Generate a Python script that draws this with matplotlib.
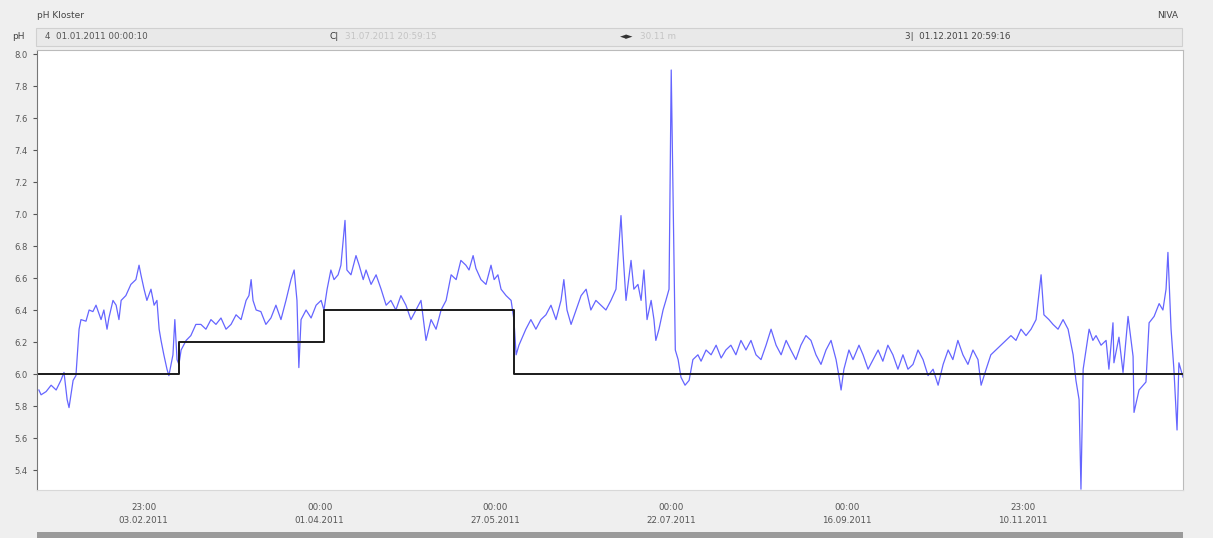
import matplotlib.pyplot as plt
import matplotlib.patches as mpatches
import numpy as np
import pandas as pd

# pH readings: days since 01.01.2011 00:00 and measured value
days = [0.6, 1.3, 2.9, 4.5, 6.1, 7.6, 8.6, 9.6, 10.2, 10.8, 11.5, 12.4, 13.4, 14.0,
        15.6, 16.6, 17.8, 18.8, 20.4, 21.3, 22.3, 22.9, 24.2, 25.2, 26.1, 26.8, 28.3,
        29.9, 31.5, 32.5, 33.1, 34.1, 35.0, 36.3, 37.3, 38.2, 38.9, 39.5, 40.4, 41.4,
        42.0, 43.3, 43.9, 44.6, 45.2, 45.9, 47.5, 49.0, 50.6, 52.2, 53.8, 55.4, 57.0,
        58.6, 60.2, 61.8, 63.4, 65.0, 66.6, 67.5, 68.2, 68.8, 69.8, 71.3, 72.9, 74.5,
        76.1, 77.7, 79.3, 80.9, 81.9, 82.8, 83.4, 84.1, 85.7, 87.3, 88.9, 90.5, 91.4,
        92.4, 93.6, 94.6, 95.9, 96.8, 98.1, 98.7, 100.0, 101.6, 102.6, 103.9, 104.8,
        106.4, 108.0, 109.6, 111.2, 112.7, 114.3, 115.9, 117.5, 119.1, 120.7, 122.3,
        123.9, 125.5, 127.1, 128.7, 130.3, 131.9, 133.5, 135.0, 136.6, 137.6, 138.9,
        139.8, 141.4, 143.0, 144.6, 145.6, 146.8, 147.8, 149.4, 151.0, 151.9, 152.6,
        153.5, 154.8, 155.7, 157.3, 158.9, 160.5, 162.1, 163.7, 165.3, 166.9, 167.8,
        168.8, 170.1, 171.7, 173.3, 174.9, 176.4, 178.0, 179.6, 181.2, 182.8, 184.4,
        186.0, 186.6, 187.6, 189.2, 190.1, 191.4, 192.4, 193.3, 194.3, 195.6, 196.5,
        197.1, 198.1, 199.4, 200.3, 201.3, 202.0, 202.6, 203.3, 204.2, 205.1, 206.4,
        207.7, 208.9, 210.5, 211.5, 213.1, 214.7, 216.3, 217.9, 219.4, 221.0, 222.6,
        224.2, 225.8, 227.4, 229.0, 230.6, 232.2, 233.8, 235.4, 237.0, 238.6, 240.1,
        241.7, 243.3, 244.9, 246.5, 248.1, 249.7, 251.3, 252.9, 254.5, 255.4, 256.1,
        257.0, 258.6, 259.9, 261.8, 263.1, 264.7, 266.3, 267.9, 269.4, 271.0, 272.6,
        274.2, 275.8, 277.4, 279.0, 280.6, 282.2, 283.8, 285.4, 287.0, 288.6, 290.2,
        291.7, 293.3, 294.9, 296.5, 298.1, 299.7, 300.7, 302.3, 303.8, 305.4, 307.0,
        308.6, 310.2, 311.8, 313.4, 315.0, 316.6, 318.2, 319.8, 320.7, 322.3, 323.6,
        325.2, 326.8, 328.4, 330.0, 330.9, 331.9, 332.5, 333.2, 334.1, 335.1, 336.3,
        337.3, 338.9, 340.5, 341.4, 342.7, 343.0, 344.6, 345.9, 347.5, 349.1, 349.4,
        351.0, 353.2, 354.2, 355.8, 357.4, 358.6, 359.6, 360.2, 361.2, 362.1, 363.1,
        363.7, 365.0]
ph = [5.90, 5.87, 5.89, 5.93, 5.90, 5.96, 6.01, 5.84, 5.79, 5.87, 5.96, 5.99, 6.28, 6.34,
      6.33, 6.40, 6.39, 6.43, 6.34, 6.40, 6.28, 6.35, 6.46, 6.43, 6.34, 6.46, 6.49,
      6.56, 6.59, 6.68, 6.62, 6.53, 6.46, 6.53, 6.43, 6.46, 6.28, 6.21, 6.12, 6.03,
      5.99, 6.12, 6.34, 6.09, 6.06, 6.15, 6.21, 6.24, 6.31, 6.31, 6.28, 6.34, 6.31,
      6.35, 6.28, 6.31, 6.37, 6.34, 6.46, 6.49, 6.59, 6.46, 6.40, 6.39, 6.31, 6.35,
      6.43, 6.34, 6.46, 6.59, 6.65, 6.46, 6.04, 6.34, 6.40, 6.35, 6.43, 6.46, 6.40,
      6.53, 6.65, 6.59, 6.62, 6.68, 6.96, 6.65, 6.62, 6.74, 6.68, 6.59, 6.65, 6.56,
      6.62, 6.53, 6.43, 6.46, 6.40, 6.49, 6.43, 6.34, 6.40, 6.46, 6.21, 6.34, 6.28,
      6.40, 6.46, 6.62, 6.59, 6.71, 6.68, 6.65, 6.74, 6.66, 6.59, 6.56, 6.68, 6.59,
      6.62, 6.53, 6.49, 6.46, 6.34, 6.12, 6.18, 6.24, 6.28, 6.34, 6.28, 6.34, 6.37,
      6.43, 6.34, 6.46, 6.59, 6.40, 6.31, 6.40, 6.49, 6.53, 6.40, 6.46, 6.43, 6.40,
      6.46, 6.53, 6.99, 6.77, 6.46, 6.71, 6.53, 6.56, 6.46, 6.65, 6.34, 6.46, 6.34,
      6.21, 6.28, 6.40, 6.46, 6.53, 7.90, 7.09, 6.15, 6.09, 5.98, 5.93, 5.96, 6.09,
      6.12, 6.08, 6.15, 6.12, 6.18, 6.10, 6.15, 6.18, 6.12, 6.21, 6.15, 6.21, 6.12,
      6.09, 6.18, 6.28, 6.18, 6.12, 6.21, 6.15, 6.09, 6.18, 6.24, 6.21, 6.12, 6.06,
      6.15, 6.21, 6.09, 5.99, 5.90, 6.03, 6.15, 6.09, 6.18, 6.12, 6.03, 6.09, 6.15,
      6.08, 6.18, 6.12, 6.03, 6.12, 6.03, 6.06, 6.15, 6.09, 5.99, 6.03, 5.93, 6.06,
      6.15, 6.09, 6.21, 6.12, 6.06, 6.15, 6.09, 5.93, 6.03, 6.12, 6.15, 6.18, 6.21,
      6.24, 6.21, 6.28, 6.24, 6.28, 6.34, 6.62, 6.37, 6.34, 6.31, 6.28, 6.34, 6.28,
      6.12, 5.96, 5.84, 5.28, 6.03, 6.15, 6.28, 6.21, 6.24, 6.18, 6.21, 6.03,
      6.32, 6.07, 6.23, 6.01, 6.36, 6.11, 5.76, 5.90, 5.95, 6.32, 6.36, 6.44, 6.40,
      6.53, 6.76, 6.28, 6.03, 5.65, 6.07, 5.98]

# reference step line
ref_days = [0.0, 45.2, 91.4, 151.8, 365.0]
ref_ph = [6.0, 6.2, 6.4, 6.0, 6.0]

yticks = [5.4, 5.6, 5.8, 6.0, 6.2, 6.4, 6.6, 6.8, 7.0, 7.2, 7.4, 7.6, 7.8, 8.0]
xtick_times = ['2011-02-03 23:00', '2011-04-01 00:00', '2011-05-27 00:00',
               '2011-07-22 00:00', '2011-09-16 00:00', '2011-11-10 23:00']

start = pd.Timestamp('2011-01-01 00:00')
t = start + pd.to_timedelta(days, unit='D')
t_ref = start + pd.to_timedelta(ref_days, unit='D')

W, H = 1213, 538
fig = plt.figure(figsize=(W / 100, H / 100), dpi=100, facecolor='#efefef')

# header rows
fig.text(37 / W, 1 - 15 / H, 'pH Kloster', fontsize=6.5, color='#444444', va='center')
fig.text(1178 / W, 1 - 15 / H, 'NIVA', fontsize=6.5, color='#444444', va='center', ha='right')
fig.patches.append(mpatches.Rectangle((36 / W, 1 - 46 / H), 1146 / W, 18 / H,
                                      transform=fig.transFigure, facecolor='#e9e9e9',
                                      edgecolor='#d0d0d0', lw=0.8))
fig.text(12 / W, 1 - 37 / H, 'pH', fontsize=6.5, color='#444444', va='center')
fig.text(45 / W, 1 - 37 / H, '4  01.01.2011 00:00:10', fontsize=6.3, color='#555555', va='center')
fig.text(330 / W, 1 - 37 / H, 'C|', fontsize=6.5, color='#333333', va='center')
fig.text(345 / W, 1 - 37 / H, '31.07.2011 20:59:15', fontsize=6.3, color='#c4c4c4', va='center')
fig.text(620 / W, 1 - 37 / H, '\u25c4\u25ba', fontsize=6.3, color='#333333', va='center')
fig.text(640 / W, 1 - 37 / H, '30.11 m', fontsize=6.3, color='#c4c4c4', va='center')
fig.text(905 / W, 1 - 37 / H, '3|  01.12.2011 20:59:16', fontsize=6.3, color='#444444', va='center')

# bottom scroll bar
fig.patches.append(mpatches.Rectangle((37 / W, 0), 1146 / W, 6 / H,
                                      transform=fig.transFigure, facecolor='#9a9a9a',
                                      edgecolor='none'))

ax = fig.add_axes([37 / W, 1 - 490 / H, 1146 / W, 440 / H])
ax.set_facecolor('white')
ax.plot(t, ph, color='#4a4aff', lw=0.9, alpha=0.85)
ax.step(t_ref, ref_ph, where='post', color='#1a1a1a', lw=1.4)

ax.set_xlim(start, start + pd.Timedelta(days=365))
ax.set_ylim(5.275, 8.025)
ax.set_yticks(yticks)
ax.set_yticklabels([f'{v:.1f}' for v in yticks])
ax.set_xticks(pd.to_datetime(xtick_times))
ax.set_xticklabels([pd.Timestamp(s).strftime('%H:%M\n%d.%m.%Y') for s in xtick_times])
ax.tick_params(axis='y', labelsize=6, colors='#555555', length=3, width=0.8, pad=4)
ax.tick_params(axis='x', labelsize=6.3, colors='#555555', length=0, pad=9)
for lab in ax.get_xticklabels():
    lab.set_linespacing(1.6)

for side in ['top', 'right']:
    ax.spines[side].set_color('#bbbbbb')
    ax.spines[side].set_linewidth(0.8)
ax.spines['left'].set_color('#777777')
ax.spines['bottom'].set_color('#d8d8d8')

fig.savefig('out.png', dpi=100, facecolor=fig.get_facecolor())
